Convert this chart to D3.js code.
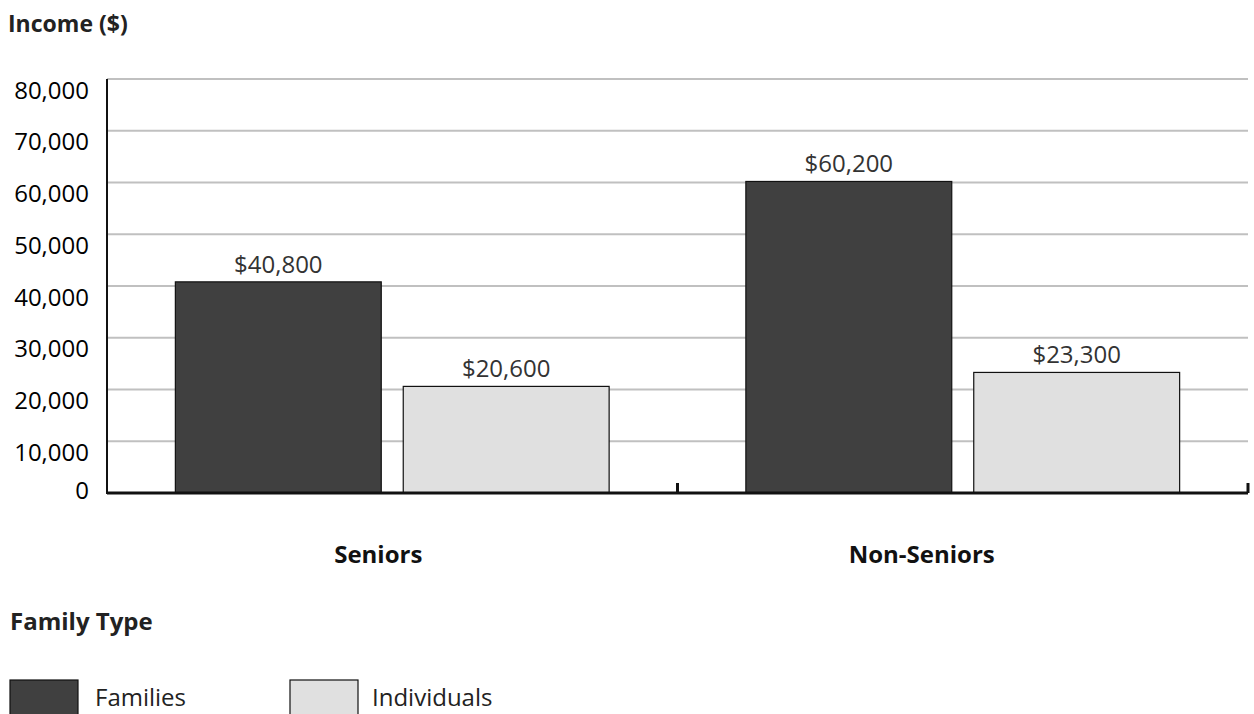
<!DOCTYPE html>
<html>
<head>
<meta charset="utf-8">
<script src="https://cdn.jsdelivr.net/npm/d3@7"></script>
<style>
  html, body { margin: 0; padding: 0; background: #fff; }
  svg { display: block; font-family: "Open Sans", "Noto Sans", sans-serif; }
</style>
</head>
<body>
<svg id="chart" width="1254" height="714"></svg>
<script>
// Median income by family type
const categories = ["Seniors", "Non-Seniors"];
const seriesNames = ["Families", "Individuals"];
const families = [40800, 60200];
const individuals = [20600, 23300];
const yTicks = [0, 10000, 20000, 30000, 40000, 50000, 60000, 70000, 80000];
const yTickLabels = ["0", "10,000", "20,000", "30,000", "40,000", "50,000", "60,000", "70,000", "80,000"];
const valueLabels = [["$40,800", "$60,200"], ["$20,600", "$23,300"]];

const colors = { Families: "#404040", Individuals: "#e0e0e0" };

const svg = d3.select("#chart");
const margin = { left: 107, right: 6, top: 79, bottom: 221 };
const width = 1254, height = 714;
const x0 = margin.left, x1 = width - margin.right;
const yBottom = height - margin.bottom;

const x = d3.scaleBand().domain(categories).range([x0, x1]).padding(0);
const xs = d3.scaleBand().domain(seriesNames).range([0, x.bandwidth()]).paddingInner(0.0965).paddingOuter(0.30);
const y = d3.scaleLinear().domain([0, 80000]).range([yBottom, margin.top]);

const seriesValues = { Families: families, Individuals: individuals };

// gridlines
svg.append("g").selectAll("line").data(yTicks.filter(d => d > 0)).join("line")
  .attr("x1", x0).attr("x2", x1)
  .attr("y1", d => y(d)).attr("y2", d => y(d))
  .attr("stroke", "#c0c0c0").attr("stroke-width", 2);

// title
svg.append("text").attr("x", 8).attr("y", 32)
  .attr("font-size", 23).attr("font-weight", 700).attr("fill", "#222")
  .text("Income ($)");

// y tick labels
svg.append("g").selectAll("text").data(yTicks).join("text")
  .attr("x", 89).attr("y", d => y(d) + (d === 0 ? -4 : 10))
  .attr("text-anchor", "end").attr("dominant-baseline", "central")
  .attr("font-size", 24).attr("fill", "#000")
  .text((d, i) => yTickLabels[i]);

// bars
const groups = svg.append("g").selectAll("g").data(categories).join("g")
  .attr("transform", d => `translate(${x(d)},0)`);

groups.selectAll("rect").data((c, ci) => seriesNames.map(s => ({ s, v: seriesValues[s][ci] })))
  .join("rect")
  .attr("x", d => xs(d.s)).attr("width", xs.bandwidth())
  .attr("y", d => y(d.v)).attr("height", d => y(0) - y(d.v))
  .attr("fill", d => colors[d.s]).attr("stroke", "#111").attr("stroke-width", 1.2);

groups.selectAll("text.val").data((c, ci) => seriesNames.map((s, si) => ({ s, v: seriesValues[s][ci], label: valueLabels[si][ci] })))
  .join("text").attr("class", "val")
  .attr("x", d => xs(d.s) + xs.bandwidth() / 2).attr("y", d => y(d.v) - 9)
  .attr("text-anchor", "middle").attr("font-size", 24).attr("fill", "#333")
  .text(d => d.label);

// axes lines
svg.append("line").attr("x1", x0).attr("x2", x0).attr("y1", margin.top).attr("y2", yBottom + 1)
  .attr("stroke", "#111").attr("stroke-width", 2);
svg.append("line").attr("x1", x0).attr("x2", x1).attr("y1", yBottom).attr("y2", yBottom)
  .attr("stroke", "#111").attr("stroke-width", 3);
svg.append("g").selectAll("line").data(categories).join("line")
  .attr("x1", d => x(d) + x.bandwidth()).attr("x2", d => x(d) + x.bandwidth())
  .attr("y1", yBottom - 10).attr("y2", yBottom)
  .attr("stroke", "#111").attr("stroke-width", 3);

// category labels
const catShift = { "Seniors": -14, "Non-Seniors": -41 };
svg.append("g").selectAll("text").data(categories).join("text")
  .attr("x", d => x(d) + x.bandwidth() / 2 + catShift[d]).attr("y", 563)
  .attr("text-anchor", "middle").attr("font-size", 24).attr("font-weight", 700).attr("fill", "#111")
  .text(d => d);

// legend
svg.append("text").attr("x", 10).attr("y", 630)
  .attr("font-size", 24).attr("font-weight", 700).attr("fill", "#222")
  .text("Family Type");

const legend = svg.append("g").selectAll("g").data(seriesNames).join("g")
  .attr("transform", (d, i) => `translate(${10 + i * 280},680)`);
legend.append("rect").attr("width", 68).attr("height", 40)
  .attr("fill", d => colors[d]).attr("stroke", "#111").attr("stroke-width", 1.2);
legend.append("text").attr("x", (d, i) => i === 0 ? 85 : 82).attr("y", 26)
  .attr("font-size", 24).attr("fill", "#222")
  .text(d => d);
</script>
</body>
</html>
